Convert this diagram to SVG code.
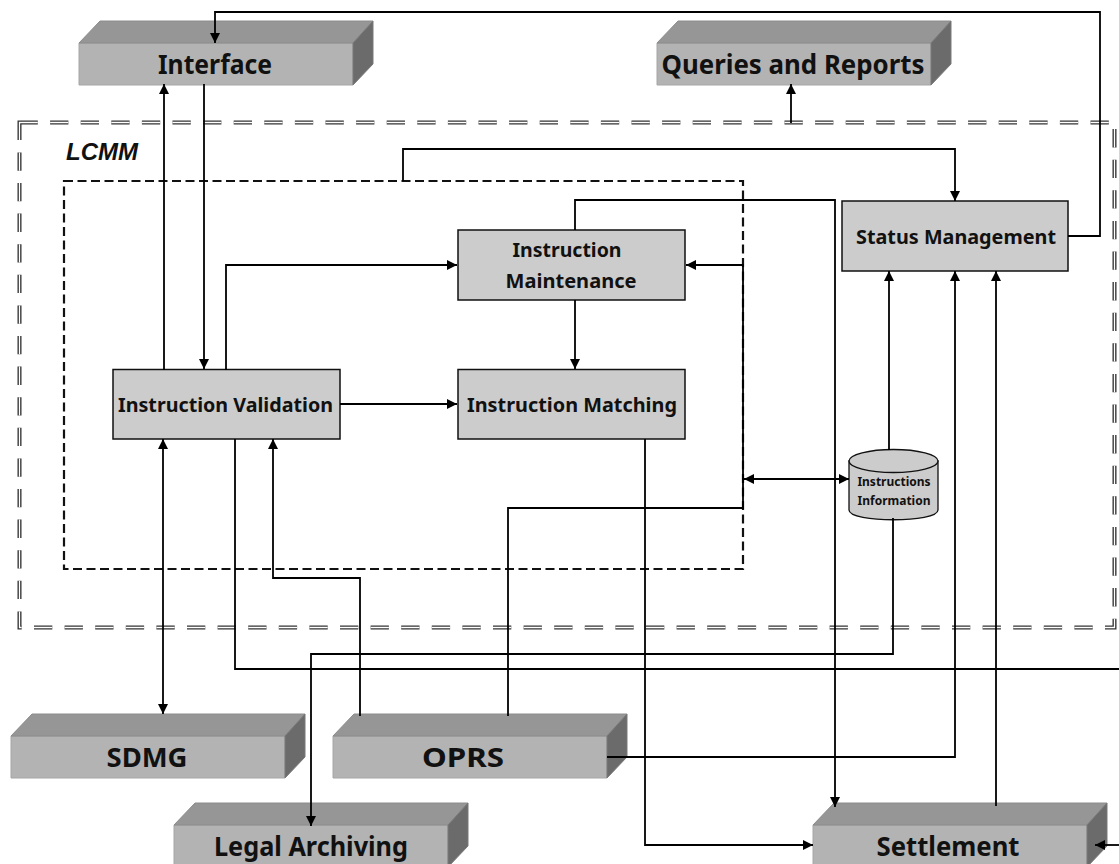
<svg xmlns="http://www.w3.org/2000/svg" width="1119" height="864" viewBox="0 0 1119 864">
<defs>
<marker id="arr" markerUnits="userSpaceOnUse" markerWidth="10" markerHeight="11" refX="10" refY="5" orient="auto-start-reverse" viewBox="0 0 10 10"><path d="M0 0L10 5L0 10Z" fill="#000"/></marker>
<g id="block">
<path class="front" d="M0 22H274V64H0Z"/>
<path class="top" d="M0 22L21 0H294L274 22Z"/>
<path class="side" d="M274 22L294 0V43L274 64Z"/>
</g>
</defs>
<style>
.front{fill:#b3b3b3;stroke:#a6a6a6;stroke-width:1}
.top{fill:#969696;stroke:#8c8c8c;stroke-width:1}
.side{fill:#6b6b6b;stroke:#7a7a7a;stroke-width:1}
.bt{font-family:"Noto Sans","Open Sans",sans-serif;font-weight:700;font-size:26px;fill:#111;text-anchor:middle}
.pr{fill:#cccccc;stroke:#111;stroke-width:1.5}
.pt{font-family:"Noto Sans","Open Sans",sans-serif;font-weight:700;font-size:19.5px;fill:#111;text-anchor:middle}
.ct{font-family:"Noto Sans","Open Sans",sans-serif;font-weight:700;font-size:12px;fill:#111;text-anchor:middle}
.c{fill:none;stroke:#000;stroke-width:1.8;marker-end:url(#arr)}
.n{fill:none;stroke:#000;stroke-width:1.8}
.both{marker-start:url(#arr)}
</style>
<g id="lcmm-boundary">
<rect x="19.5" y="122.5" width="1095" height="505" fill="none" stroke="#333" stroke-width="4" stroke-dasharray="18.3 12.3"/>
<rect x="19.5" y="122.5" width="1095" height="505" fill="none" stroke="#fff" stroke-width="1.3" stroke-dasharray="18.3 12.3"/>
<text x="66" y="160" font-family="'Liberation Sans',Arial,sans-serif" font-weight="700" font-style="italic" font-size="23" fill="#111" textLength="72" lengthAdjust="spacingAndGlyphs">LCMM</text>
</g>
<g id="inner-boundary"><rect x="64" y="181" width="679" height="388" fill="none" stroke="#111" stroke-width="2.2" stroke-dasharray="9 4.5"/></g>
<g id="interface"><use href="#block" x="79" y="21"/><text class="bt" x="215" y="74" textLength="114" lengthAdjust="spacingAndGlyphs">Interface</text></g>
<g id="queries"><use href="#block" x="657" y="21"/><text class="bt" x="793" y="74" textLength="263" lengthAdjust="spacingAndGlyphs">Queries and Reports</text></g>
<g id="sdmg"><use href="#block" x="11" y="714"/><text class="bt" x="147" y="767" textLength="81" lengthAdjust="spacingAndGlyphs">SDMG</text></g>
<g id="oprs"><use href="#block" x="333" y="714"/><text class="bt" x="463" y="767" textLength="82" lengthAdjust="spacingAndGlyphs">OPRS</text></g>
<g id="legal"><use href="#block" x="174" y="803"/><text class="bt" x="311" y="856" textLength="194" lengthAdjust="spacingAndGlyphs">Legal Archiving</text></g>
<g id="settlement"><use href="#block" x="813" y="803"/><text class="bt" x="948" y="856" textLength="143" lengthAdjust="spacingAndGlyphs">Settlement</text></g>
<g id="status"><rect class="pr" x="842" y="201" width="226" height="70"/><text class="pt" x="956" y="244" textLength="200" lengthAdjust="spacingAndGlyphs">Status Management</text></g>
<g id="maintenance"><rect class="pr" x="458" y="230" width="227" height="70"/><text class="pt" x="567" y="257" textLength="109" lengthAdjust="spacingAndGlyphs">Instruction</text><text class="pt" x="571" y="288" textLength="131" lengthAdjust="spacingAndGlyphs">Maintenance</text></g>
<g id="validation"><rect class="pr" x="113" y="369.500" width="227" height="69.500"/><text class="pt" x="225.500" y="412" textLength="215" lengthAdjust="spacingAndGlyphs">Instruction Validation</text></g>
<g id="matching"><rect class="pr" x="458" y="369.500" width="227" height="69.500"/><text class="pt" x="572" y="412" textLength="210" lengthAdjust="spacingAndGlyphs">Instruction Matching</text></g>
<g id="store">
<path d="M849 461V510C849 523 938 523 938 510V461Z" fill="#cccccc" stroke="#111" stroke-width="1.3"/>
<ellipse cx="893.5" cy="461" rx="44.500" ry="11.500" fill="#cccccc" stroke="#111" stroke-width="1.3"/>
<text class="ct" x="894" y="486">Instructions</text><text class="ct" x="894" y="505">Information</text>
</g>
<g id="connectors">
<path class="c" d="M1068 236H1100V12H215V43"/>
<path class="c" d="M164 370V84"/>
<path class="c" d="M204 84V369"/>
<path class="c" d="M791 123V84"/>
<path class="c" d="M403 181V149H955V201"/>
<path class="c" d="M575 230V200H835V807"/>
<path class="c" d="M226 370V265H457"/>
<path class="c" d="M575 300V369"/>
<path class="c" d="M340 404H457"/>
<path class="c both" d="M744 479H849"/>
<path class="c" d="M889 450V271"/>
<path class="c" d="M508 716V508H743V265H686"/>
<path class="c" d="M360 716V578H273V439"/>
<path class="c both" d="M163 439V714"/>
<path class="n" d="M235 439V669H1119"/>
<path class="c" d="M893 518V654H311V826"/>
<path class="c" d="M645 439V845H813"/>
<path class="c" d="M607 757H955V271"/>
<path class="c" d="M996 806V271"/>
<path class="c" d="M1119 845H1095"/>
</g>
</svg>
